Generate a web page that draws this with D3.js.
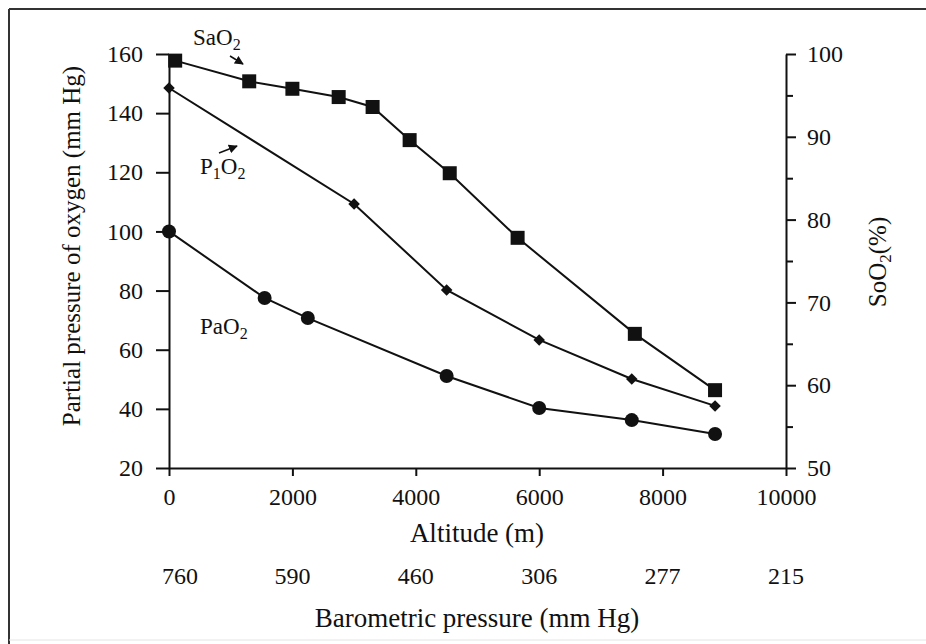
<!DOCTYPE html>
<html>
<head>
<meta charset="utf-8">
<script src="https://cdn.jsdelivr.net/npm/d3@7"></script>
<style>
  body { margin: 0; background: #fff; }
  svg text { font-family: "Liberation Serif", "Times New Roman", serif; fill: #111; }
</style>
</head>
<body>
<svg id="chart" width="926" height="644"></svg>
<script>
//
// Data
//

// SaO2, squares, read on the right axis (%)
const saAltitude = [100, 1300, 2000, 2750, 3300, 3900, 4550, 5650, 7550, 8850];
const saValues = [99.2, 96.7, 95.8, 94.8, 93.6, 89.6, 85.6, 77.8, 66.2, 59.4];

// P1O2, diamonds, left axis (mm Hg)
const piAltitude = [0, 3000, 4500, 6000, 7500, 8850];
const piValues = [148.5, 109.3, 80.2, 63.3, 50.1, 41.0];

// PaO2, circles, left axis (mm Hg)
const paAltitude = [0, 1550, 2250, 4500, 6000, 7500, 8850];
const paValues = [100, 77.5, 70.7, 51.1, 40.3, 36.2, 31.5];

const xTicks = [0, 2000, 4000, 6000, 8000, 10000];
const leftTicks = [20, 40, 60, 80, 100, 120, 140, 160];
const rightTicks = [50, 60, 70, 80, 90, 100];
const rightMinor = [55, 65, 75, 85, 95];
const pressureLabels = ["760", "590", "460", "306", "277", "215"];

//
// Scales
//

const svg = d3.select("#chart");
const x = d3.scaleLinear().domain([0, 10000]).range([169, 786]);
const yLeft = d3.scaleLinear().domain([20, 160]).range([468, 54]);
const yRight = d3.scaleLinear().domain([50, 100]).range([468, 54]);

// frame round the figure
svg.append("line").attr("x1", 9).attr("x2", 926).attr("y1", 9).attr("y2", 9)
  .attr("stroke", "#333").attr("stroke-width", 2);
svg.append("line").attr("x1", 9).attr("x2", 9).attr("y1", 9).attr("y2", 644)
  .attr("stroke", "#333").attr("stroke-width", 2);
svg.append("line").attr("x1", 9).attr("x2", 926).attr("y1", 640).attr("y2", 640)
  .attr("stroke", "#e4e4e4").attr("stroke-width", 1);

//
// Axes
//

function styleAxis(g) {
  g.select(".domain").attr("stroke", "#111").attr("stroke-width", 2);
  g.selectAll(".tick line").attr("stroke", "#111").attr("stroke-width", 2);
  g.selectAll(".tick text").attr("font-size", 24).attr("font-family", "Liberation Serif").attr("fill", "#111");
}

svg.append("g")
  .attr("transform", "translate(0,468)")
  .call(d3.axisBottom(x).tickValues(xTicks).tickFormat(d3.format("d")).tickSize(8).tickSizeOuter(0).tickPadding(12))
  .call(styleAxis);

svg.append("g")
  .attr("transform", "translate(169,0)")
  .call(d3.axisLeft(yLeft).tickValues(leftTicks).tickSize(13).tickSizeOuter(0).tickPadding(13))
  .call(styleAxis);

svg.append("g")
  .attr("transform", "translate(786,0)")
  .call(d3.axisRight(yRight).tickValues(rightTicks).tickSize(10).tickSizeOuter(0).tickPadding(11))
  .call(styleAxis);

// minor ticks on the right axis, no labels
svg.append("g")
  .attr("transform", "translate(786,0)")
  .call(d3.axisRight(yRight).tickValues(rightMinor).tickSize(7).tickSizeOuter(0))
  .call(styleAxis)
  .call(g => { g.select(".domain").remove(); g.selectAll(".tick text").remove(); });

// barometric pressure row under the altitudes
svg.append("g").selectAll("text")
  .data(pressureLabels)
  .join("text")
  .attr("x", (d, i) => x(xTicks[i]) + (i === 0 ? 11 : 0))
  .attr("y", 584)
  .attr("text-anchor", "middle")
  .attr("font-size", 24)
  .text(d => d);

// axis titles
svg.append("text").attr("x", 477).attr("y", 542).attr("text-anchor", "middle")
  .attr("font-size", 27).text("Altitude (m)");
svg.append("text").attr("x", 477).attr("y", 627).attr("text-anchor", "middle")
  .attr("font-size", 27).text("Barometric pressure (mm Hg)");
svg.append("text").attr("transform", "translate(80,246) rotate(-90)").attr("text-anchor", "middle")
  .attr("font-size", 25).text("Partial pressure of oxygen (mm Hg)");

const rightTitle = svg.append("text").attr("transform", "translate(886,262) rotate(-90)")
  .attr("text-anchor", "middle").attr("font-size", 25);
rightTitle.append("tspan").text("SoO");
rightTitle.append("tspan").attr("font-size", 17).attr("dy", 5).text("2");
rightTitle.append("tspan").attr("dy", -5).text("(%)");

//
// Series
//

function series(alt, vals, yScale) {
  return alt.map((a, i) => [x(a), yScale(vals[i])]);
}

const line = d3.line();
const sa = series(saAltitude, saValues, yRight);
const pi = series(piAltitude, piValues, yLeft);
const pa = series(paAltitude, paValues, yLeft);

[sa, pi, pa].forEach(pts => {
  svg.append("path").attr("d", line(pts)).attr("fill", "none")
    .attr("stroke", "#111").attr("stroke-width", 2);
});

svg.append("g").selectAll("rect").data(sa).join("rect")
  .attr("x", d => d[0] - 7).attr("y", d => d[1] - 7)
  .attr("width", 14).attr("height", 14).attr("fill", "#111");

svg.append("g").selectAll("path").data(pi).join("path")
  .attr("d", d3.symbol(d3.symbolDiamond2, 85))
  .attr("transform", d => `translate(${d[0]},${d[1]})`)
  .attr("fill", "#111");

svg.append("g").selectAll("circle").data(pa).join("circle")
  .attr("cx", d => d[0]).attr("cy", d => d[1]).attr("r", 7).attr("fill", "#111");

//
// Series labels with arrows
//

svg.append("defs").append("marker")
  .attr("id", "head").attr("viewBox", "0 0 10 10").attr("refX", 9).attr("refY", 5)
  .attr("markerWidth", 6).attr("markerHeight", 6).attr("orient", "auto")
  .append("path").attr("d", "M0,0L10,5L0,10z").attr("fill", "#111");

// parts alternate between normal text and subscripts
function label(xp, yp, parts) {
  const t = svg.append("text").attr("x", xp).attr("y", yp).attr("font-size", 23);
  let down = false;
  parts.forEach(p => {
    const s = t.append("tspan").text(p.text);
    if (p.sub) { s.attr("font-size", 16).attr("dy", 5); down = true; }
    else if (down) { s.attr("dy", -5); down = false; }
  });
}

label(193, 45, [{ text: "SaO" }, { text: "2", sub: true }]);
label(200, 174, [{ text: "P" }, { text: "1", sub: true }, { text: "O" }, { text: "2", sub: true }]);
label(200, 334, [{ text: "PaO" }, { text: "2", sub: true }]);

svg.append("line").attr("x1", 230).attr("y1", 56).attr("x2", 243).attr("y2", 64)
  .attr("stroke", "#111").attr("stroke-width", 1.5).attr("marker-end", "url(#head)");
svg.append("line").attr("x1", 219).attr("y1", 153).attr("x2", 237).attr("y2", 146)
  .attr("stroke", "#111").attr("stroke-width", 1.5).attr("marker-end", "url(#head)");
</script>
</body>
</html>
